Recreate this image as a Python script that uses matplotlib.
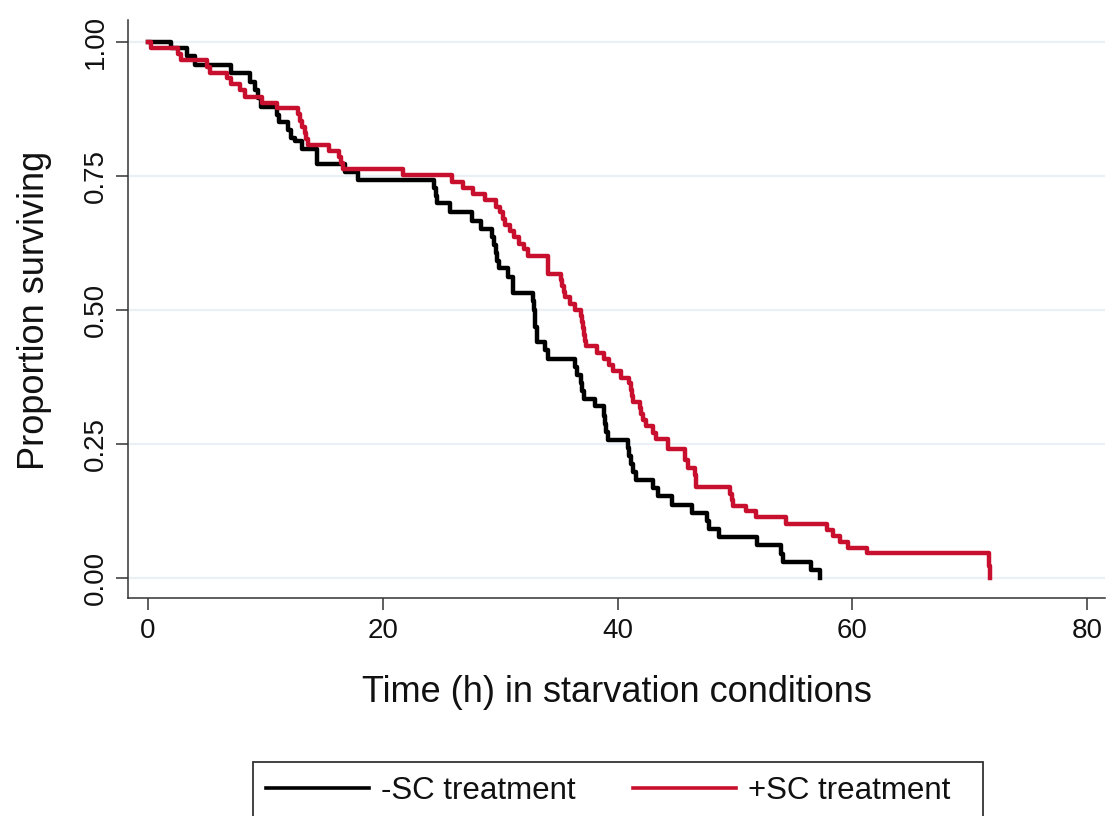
import matplotlib
matplotlib.use("Agg")
import matplotlib.pyplot as plt
from matplotlib.lines import Line2D
from matplotlib.patches import Rectangle

plt.rcParams['font.family'] = ['Liberation Sans', 'DejaVu Sans']

# -SC treatment (black): event times (h) and survival after each step
minus_t = [0, 2.0, 3.3, 4.0, 7.1, 8.7, 9.1, 9.4, 9.6, 11.0, 11.2, 11.9, 12.2, 12.5,
           13.1, 14.4, 16.8, 17.9, 24.4, 24.5, 24.6, 25.7, 27.6, 28.4, 29.3, 29.45,
           29.6, 29.75, 29.9, 30.7, 31.1, 32.8, 32.9, 32.95, 33.0, 33.1, 33.8, 34.1,
           36.4, 36.5, 36.9, 37.0, 37.1, 38.1, 38.8, 38.9, 39.0, 39.2, 40.9, 41.0,
           41.1, 41.3, 41.6, 43.0, 43.4, 44.6, 46.3, 47.6, 47.8, 48.6, 51.9, 53.9,
           54.1, 56.5, 57.2]
minus_s = [1.0, 0.988, 0.973, 0.957, 0.942, 0.926, 0.910, 0.896, 0.879, 0.864, 0.851,
           0.836, 0.821, 0.816, 0.800, 0.772, 0.758, 0.743, 0.728, 0.713, 0.699, 0.682,
           0.666, 0.651, 0.636, 0.621, 0.606, 0.591, 0.578, 0.562, 0.531, 0.516, 0.500,
           0.485, 0.469, 0.441, 0.425, 0.408, 0.394, 0.379, 0.364, 0.348, 0.333, 0.320,
           0.303, 0.288, 0.273, 0.258, 0.242, 0.227, 0.212, 0.197, 0.183, 0.167, 0.152,
           0.136, 0.121, 0.106, 0.091, 0.076, 0.061, 0.045, 0.030, 0.015, 0.0]

# +SC treatment (red)
plus_t = [0, 0.3, 2.6, 2.8, 5.0, 5.3, 6.7, 7.1, 7.8, 8.3, 9.7, 11.0, 12.8, 12.95, 13.1,
          13.35, 13.5, 13.65, 15.4, 16.3, 16.45, 16.6, 21.7, 25.9, 26.8, 27.7, 28.7,
          29.6, 30.0, 30.2, 30.4, 30.8, 31.2, 31.6, 32.0, 32.4, 34.05, 34.1, 35.2, 35.3,
          35.4, 35.5, 35.9, 36.4, 36.9, 37.0, 37.05, 37.1, 37.2, 37.3, 38.2, 38.8, 39.3,
          39.6, 40.3, 41.0, 41.1, 41.2, 41.3, 41.9, 42.0, 42.2, 42.4, 43.0, 43.3, 44.3,
          45.7, 46.0, 46.6, 46.65, 46.7, 49.6, 49.7, 49.8, 50.9, 51.8, 54.3, 57.8, 58.3,
          58.9, 59.6, 61.2, 71.6, 71.7]
plus_s = [1.0, 0.988, 0.977, 0.966, 0.954, 0.943, 0.932, 0.921, 0.910, 0.898, 0.887,
          0.876, 0.865, 0.853, 0.842, 0.831, 0.819, 0.808, 0.796, 0.785, 0.774, 0.763,
          0.751, 0.739, 0.728, 0.716, 0.705, 0.693, 0.682, 0.670, 0.659, 0.647, 0.636,
          0.624, 0.613, 0.601, 0.585, 0.568, 0.556, 0.545, 0.534, 0.525, 0.512, 0.500,
          0.488, 0.477, 0.466, 0.454, 0.443, 0.432, 0.420, 0.409, 0.397, 0.386, 0.374,
          0.363, 0.351, 0.340, 0.329, 0.317, 0.306, 0.294, 0.283, 0.271, 0.260, 0.240,
          0.220, 0.205, 0.193, 0.181, 0.169, 0.157, 0.146, 0.134, 0.125, 0.113, 0.101,
          0.090, 0.079, 0.068, 0.056, 0.047, 0.023, 0.0]

labels = ['-SC treatment', '+SC treatment']
colors = ['#000000', '#c8102e']
x_ticks = [0, 20, 40, 60, 80]
y_ticks = [0.0, 0.25, 0.5, 0.75, 1.0]
y_ticklabels = ['0.00', '0.25', '0.50', '0.75', '1.00']

text_color = '#111111'

fig = plt.figure(figsize=(11.16, 8.16), dpi=100)
ax = fig.add_axes([0.1147, 0.2672, 0.8754, 0.7083])

for yv in y_ticks:
    ax.axhline(yv, color='#eaf0f5', lw=1.6, zorder=0)

ax.step(minus_t, minus_s, where='post', color=colors[0], lw=3.2, zorder=3)
ax.step(plus_t, plus_s, where='post', color=colors[1], lw=3.2, zorder=3)

ax.set_xlim(-1.70, 81.5)
ax.set_ylim(-0.0373, 1.041)
ax.set_xticks(x_ticks)
ax.set_yticks(y_ticks)
ax.set_yticklabels(y_ticklabels)
ax.tick_params(axis='both', direction='out', length=8.5, width=1.1, color='#333333',
               labelcolor=text_color)
ax.tick_params(axis='x', pad=6)
ax.tick_params(axis='y', pad=5, labelrotation=90)
for lab in ax.get_xticklabels():
    lab.set_fontsize(20)
for lab in ax.get_yticklabels():
    lab.set_fontsize(20)
    lab.set_va('center')

for side in ['top', 'right']:
    ax.spines[side].set_visible(False)
for side in ['left', 'bottom']:
    ax.spines[side].set_color('#333333')
    ax.spines[side].set_linewidth(1.1)

fig.text(35 / 1116, 1 - 310 / 816, 'Proportion surviving', rotation=90,
         ha='center', va='center', fontsize=26, color=text_color)
fig.text(617 / 1116, 1 - 693 / 816, 'Time (h) in starvation conditions',
         ha='center', va='center', fontsize=26, color=text_color)

handles = [Line2D([], [], color=c, lw=2.6) for c in colors]
leg = fig.legend(handles, labels, loc='center left',
                 bbox_to_anchor=(266 / 1116, 1 - 791 / 816),
                 ncol=2, fontsize=22.5, frameon=False,
                 handlelength=3.3, handletextpad=0.38, columnspacing=1.84,
                 borderpad=0, borderaxespad=0)
for t in leg.get_texts():
    t.set_color(text_color)

fig.patches.append(Rectangle((253 / 1116, -0.02), (983 - 253) / 1116, (816 - 762) / 816 + 0.02,
                             transform=fig.transFigure, fill=False,
                             edgecolor='#333333', linewidth=1.3))

fig.savefig('out.png', dpi=100)
